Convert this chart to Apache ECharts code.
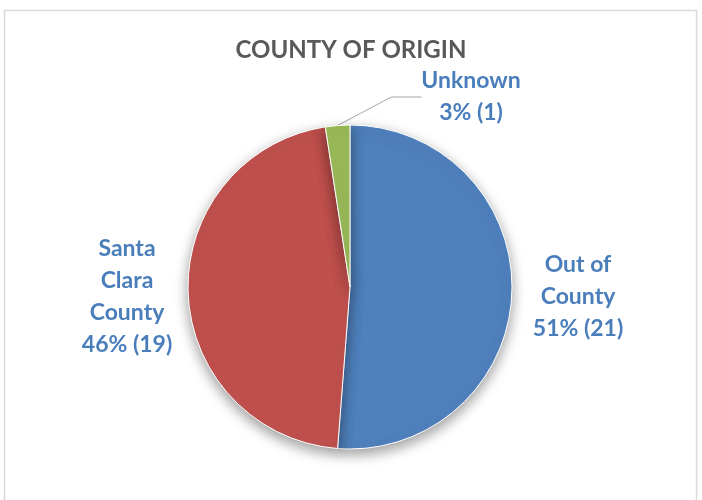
<!DOCTYPE html>
<html>
<head>
<meta charset="utf-8">
<script src="https://cdn.jsdelivr.net/npm/echarts@6/dist/echarts.min.js"></script>
<style>
  html, body { margin: 0; padding: 0; background: #fff; }
  #chart { width: 702px; height: 500px; }
</style>
</head>
<body>
<div id="chart"></div>
<script>
// County of origin counts
const categories = ['Out of\nCounty', 'Santa\nClara\nCounty', 'Unknown'];
const counts = [21, 19, 1];
const percentLabels = [51, 46, 3];
const colors = ['#4F81BD', '#C0504D', '#9BBB59'];
// label anchor points (centre of each text block)
const labelAnchors = [[578, 297], [127, 297], [471, 97]];

const chart = echarts.init(document.getElementById('chart'));

chart.setOption({
  animation: false,
  title: {
    text: 'COUNTY OF ORIGIN',
    left: 'center',
    top: 33,
    textStyle: {
      fontFamily: 'Lato',
      fontWeight: 'bold',
      fontSize: 24,
      color: '#595959'
    }
  },
  graphic: [{
    type: 'rect',
    shape: { x: 4.5, y: 10.5, width: 692, height: 500 },
    style: { fill: 'none', stroke: '#d9d9d9', lineWidth: 1.5 },
    silent: true
  }],
  series: [{
    type: 'pie',
    center: [350, 287],
    radius: 162,
    startAngle: 90,
    clockwise: true,
    data: categories.map((name, i) => ({
      name: name,
      value: counts[i],
      itemStyle: { color: colors[i] },
      labelLine: { show: i === 2 }
    })),
    itemStyle: {
      borderColor: '#ffffff',
      borderWidth: 1,
      shadowBlur: 14,
      shadowColor: 'rgba(0,0,0,0.4)',
      shadowOffsetY: 5
    },
    label: {
      show: true,
      position: 'outside',
      formatter: p => p.name + '\n' + percentLabels[p.dataIndex] + '% (' + p.value + ')',
      fontFamily: 'Lato',
      fontWeight: 'bold',
      fontSize: 23,
      lineHeight: 32,
      color: '#4A7EBB',
      align: 'center'
    },
    labelLine: {
      show: true,
      lineStyle: { color: '#A6A6A6', width: 1 }
    },
    labelLayout: params => {
      const a = labelAnchors[params.dataIndex];
      return { x: a[0], y: a[1], align: 'center', verticalAlign: 'middle' };
    }
  }]
});
</script>
</body>
</html>
